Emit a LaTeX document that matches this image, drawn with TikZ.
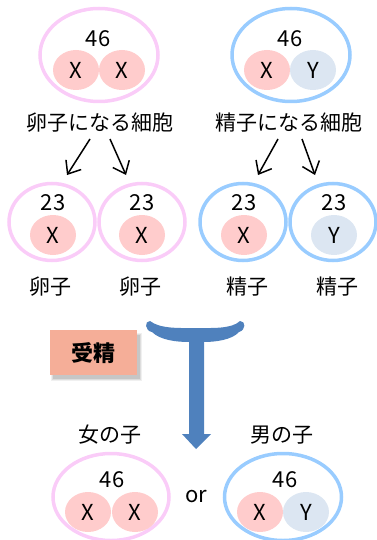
\documentclass[tikz,border=0pt]{standalone}
\usepackage{fontspec}
\setmainfont{Noto Sans CJK JP}
\usetikzlibrary{arrows.meta,shapes.geometric}
\definecolor{pinkline}{HTML}{FACCF8}
\definecolor{blueline}{HTML}{99CCFF}
\definecolor{xfill}{HTML}{FFCCCC}
\definecolor{yfill}{HTML}{DCE6F2}
\definecolor{tblue}{HTML}{4F81BD}
\definecolor{boxfill}{HTML}{F5AE98}
\tikzset{
  bigcell/.style={ellipse, draw=#1, line width=3.5pt, minimum width=118pt, minimum height=93pt, inner sep=0pt},
  smallcell/.style={ellipse, draw=#1, line width=3.5pt, minimum width=86pt, minimum height=77pt, inner sep=0pt},
  chromo/.style={ellipse, fill=#1, minimum width=46pt, minimum height=40pt, inner sep=0pt, font=\fontsize{22}{22}\selectfont},
  num/.style={inner sep=0pt, font=\fontsize{22}{22}\selectfont},
  lbl/.style={inner sep=0pt, font=\fontsize{21}{21}\selectfont},
  splitarrow/.style={line width=1.5pt, -{Straight Barb[length=11pt,width=18pt]}},
}
\begin{document}
\begin{tikzpicture}[x=1pt,y=-1pt]
\useasboundingbox (0,0) rectangle (376,540);
% top row
\node[bigcell=pinkline] (mom) at (99,55) {};
\node[num] (momn) at (98,39) {46};
\node[chromo=xfill] (momx1) at (76,70) {X};
\node[chromo=xfill] (momx2) at (122,70) {X};
\node[bigcell=blueline] (dad) at (291,55) {};
\node[num] (dadn) at (290,39) {46};
\node[chromo=xfill] (dadx) at (267,70) {X};
\node[chromo=yfill] (dady) at (313,70) {Y};
\node[lbl] (momlbl) at (100,123) {卵子になる細胞};
\node[lbl] (dadlbl) at (289,123) {精子になる細胞};
% arrows
\coordinate (a1s) at (90,139); \coordinate (a1e) at (67,175);
\coordinate (a2s) at (110,139); \coordinate (a2e) at (126,175);
\coordinate (a3s) at (278,139); \coordinate (a3e) at (258,175);
\coordinate (a4s) at (302,139); \coordinate (a4e) at (315,175);
\draw[splitarrow] (a1s) -- (a1e);
\draw[splitarrow] (a2s) -- (a2e);
\draw[splitarrow] (a3s) -- (a3e);
\draw[splitarrow] (a4s) -- (a4e);
% second row
\node[smallcell=pinkline] (egg1) at (52,222) {};
\node[smallcell=pinkline] (egg2) at (142,222) {};
\node[smallcell=blueline] (sp1) at (243,222) {};
\node[smallcell=blueline] (sp2) at (333,222) {};
\node[num] (egg1n) at (53,203) {23};
\node[num] (egg2n) at (142,203) {23};
\node[num] (sp1n) at (244,203) {23};
\node[num] (sp2n) at (334,203) {23};
\node[chromo=xfill] (egg1x) at (53,235) {X};
\node[chromo=xfill] (egg2x) at (142,235) {X};
\node[chromo=xfill] (sp1x) at (244,235) {X};
\node[chromo=yfill] (sp2y) at (334,235) {Y};
\node[lbl] (egg1l) at (50,287) {卵子};
\node[lbl] (egg2l) at (140,287) {卵子};
\node[lbl] (sp1l) at (247,287) {精子};
\node[lbl] (sp2l) at (337,287) {精子};
% fertilization box with shadow
\fill[black, opacity=0.06] (51,333) rectangle (142,381);
\fill[black, opacity=0.08] (52,334) rectangle (141,380);
\fill[black, opacity=0.10] (53,335) rectangle (140,379);
\node[fill=boxfill, minimum width=87pt, minimum height=45pt, inner sep=0pt, anchor=north west,
      font=\fontsize{22}{22}\selectfont\bfseries] (fert) at (50,330) {受精};
% T arrow
\fill[tblue] (150,321) .. controls (160,329) and (180,328) .. (196,328)
  .. controls (212,328) and (232,329) .. (240,321)
  .. controls (246,321) and (246,330) .. (239,332)
  .. controls (232,340) and (215,342) .. (204,342)
  -- (204,434) -- (211,434) -- (196,449) -- (182,434) -- (189,434) -- (189,342)
  .. controls (176,342) and (160,340) .. (152,332)
  .. controls (145,331) and (144,321) .. (150,321) -- cycle;
% bottom row
\node[lbl] (girl) at (110,435) {女の子};
\node[lbl] (boy) at (282,435) {男の子};
\node[bigcell=pinkline, minimum width=116pt, minimum height=87pt] (gcell) at (111,497) {};
\node[bigcell=blueline, minimum width=117pt, minimum height=87pt] (bcell) at (283,497) {};
\node[num] (gn) at (112,480) {46};
\node[num] (bn) at (285,480) {46};
\node[chromo=xfill] (gx1) at (88,512) {X};
\node[chromo=xfill] (gx2) at (135,512) {X};
\node[chromo=xfill] (bx) at (260,512) {X};
\node[chromo=yfill] (by) at (306,512) {Y};
\node[num] (or) at (196,497) {or};
\end{tikzpicture}
\end{document}
